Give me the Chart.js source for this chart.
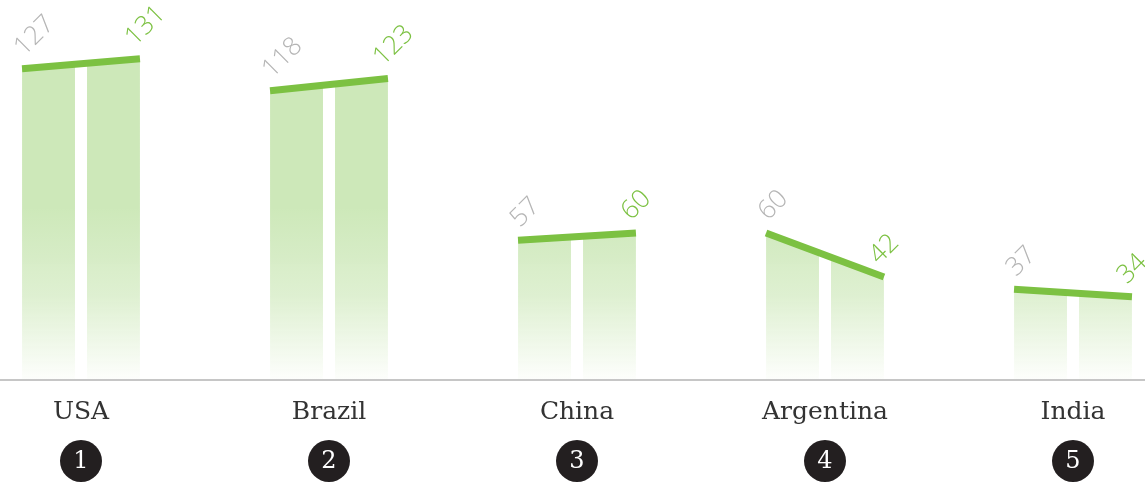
<!DOCTYPE html>
<html lang="en">
<head>
<meta charset="UTF-8">
<title>Top 5 countries</title>
<script src="https://cdn.jsdelivr.net/npm/chart.js"></script>
<style>
  html, body { margin: 0; padding: 0; background: #fff; }
  #wrap { width: 1145px; height: 482px; position: relative; }
</style>
</head>
<body>
<div id="wrap"><canvas id="chart"></canvas></div>
<script>
// data
var countries = ['USA', 'Brazil', 'China', 'Argentina', 'India'];
var ranks = ['1', '2', '3', '4', '5'];
var before = [127, 118, 57, 60, 37];
var after = [131, 123, 60, 42, 34];

var green = '#7cc142';
var grey = '#b5b5b5';

// bars are drawn to the higher of the two values, then clipped under the slope line
var barTops = before.map(function(v, i) { return Math.max(v, after[i]); });

function barFill(context) {
    var area = context.chart.chartArea;
    if (!area) return '#cde8b9';
    var g = context.chart.ctx.createLinearGradient(0, area.top, 0, area.bottom);
    g.addColorStop(0, 'rgba(205,232,185,1)');
    g.addColorStop(0.55, 'rgba(205,232,185,1)');
    g.addColorStop(0.78, 'rgba(205,232,185,0.65)');
    g.addColorStop(1, 'rgba(205,232,185,0.04)');
    return g;
}

var slopes = {
    id: 'slopes',
    beforeDatasetsDraw: function(chart) {
        var ctx = chart.ctx, y = chart.scales.y;
        var m0 = chart.getDatasetMeta(0), m1 = chart.getDatasetMeta(1);
        var base = y.getPixelForValue(0);
        ctx.save();
        ctx.beginPath();
        for (var i = 0; i < countries.length; i++) {
            var l = m0.data[i], r = m1.data[i];
            var xl = l.x - l.width / 2, xr = r.x + r.width / 2;
            ctx.moveTo(xl, base);
            ctx.lineTo(xl, y.getPixelForValue(before[i]));
            ctx.lineTo(xr, y.getPixelForValue(after[i]));
            ctx.lineTo(xr, base);
            ctx.closePath();
        }
        ctx.clip();
    },
    afterDatasetsDraw: function(chart) {
        var ctx = chart.ctx, x = chart.scales.x, y = chart.scales.y;
        var m0 = chart.getDatasetMeta(0), m1 = chart.getDatasetMeta(1);
        ctx.restore();
        var base = y.getPixelForValue(0);

        // baseline
        ctx.save();
        ctx.strokeStyle = '#c6c6c6';
        ctx.lineWidth = 2;
        ctx.beginPath();
        ctx.moveTo(0, base);
        ctx.lineTo(chart.width, base);
        ctx.stroke();
        ctx.restore();

        for (var i = 0; i < countries.length; i++) {
            var l = m0.data[i], r = m1.data[i];
            var xl = l.x - l.width / 2, xr = r.x + r.width / 2;
            var ya = y.getPixelForValue(before[i]);
            var yb = y.getPixelForValue(after[i]);

            // slope line
            ctx.save();
            ctx.strokeStyle = green;
            ctx.lineWidth = 7;
            ctx.lineCap = 'butt';
            ctx.beginPath();
            ctx.moveTo(xl, ya);
            ctx.lineTo(xr, yb);
            ctx.stroke();
            ctx.restore();

            // rotated value labels
            ctx.save();
            ctx.font = '300 26px "Open Sans"';
            ctx.textAlign = 'left';
            ctx.textBaseline = 'alphabetic';
            ctx.fillStyle = grey;
            ctx.translate(xl + 2, ya - 12);
            ctx.rotate(-Math.PI / 4);
            ctx.fillText(String(before[i]), 0, 0);
            ctx.restore();

            ctx.save();
            ctx.font = '300 26px "Open Sans"';
            ctx.textAlign = 'left';
            ctx.textBaseline = 'alphabetic';
            ctx.fillStyle = green;
            ctx.translate(xr - 5, yb - 12);
            ctx.rotate(-Math.PI / 4);
            ctx.fillText(String(after[i]), 0, 0);
            ctx.restore();

            // category name and rank badge
            var cx = x.getPixelForValue(i);
            ctx.save();
            ctx.fillStyle = '#333';
            ctx.font = '25px "DejaVu Serif"';
            ctx.textAlign = 'center';
            ctx.textBaseline = 'middle';
            ctx.fillText(countries[i], cx, base + 32);

            ctx.fillStyle = '#231f20';
            ctx.beginPath();
            ctx.arc(cx, base + 81, 21, 0, Math.PI * 2);
            ctx.fill();
            ctx.fillStyle = '#fff';
            ctx.font = '24px "DejaVu Serif"';
            ctx.fillText(ranks[i], cx, base + 82);
            ctx.restore();
        }
    }
};

var ctx = document.getElementById('chart').getContext('2d');
var chart = new Chart(ctx, {
    type: 'bar',
    data: {
        labels: countries,
        datasets: [{
            label: 'Before',
            data: barTops,
            backgroundColor: barFill,
            borderWidth: 0,
            clip: false
        }, {
            label: 'After',
            data: barTops,
            backgroundColor: barFill,
            borderWidth: 0,
            clip: false
        }]
    },
    options: {
        responsive: true,
        maintainAspectRatio: false,
        animation: false,
        categoryPercentage: 0.524,
        barPercentage: 0.815,
        layout: { padding: { left: 81, right: 72, top: 0, bottom: 102 } },
        plugins: {
            legend: { display: false },
            tooltip: { enabled: false }
        },
        scales: {
            x: { display: false, offset: false },
            y: { display: false, min: 0, max: 155 }
        }
    },
    plugins: [slopes]
});
</script>
</body>
</html>
